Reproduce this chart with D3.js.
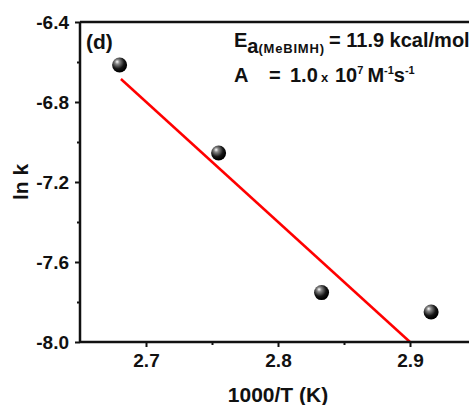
<!DOCTYPE html>
<html>
<head>
<meta charset="utf-8">
<script src="https://cdn.jsdelivr.net/npm/d3@7"></script>
<style>
  body { margin: 0; background: #fff; }
  svg { font-family: "Liberation Sans", Arial, sans-serif; font-weight: bold; }
</style>
</head>
<body>
<div id="canvas"></div>
<script>
// data
const invT = [2.680, 2.755, 2.833, 2.916];
const lnK = [-6.615, -7.055, -7.753, -7.85];
const fitX = [2.681, 2.900];
const fitY = [-6.685, -8.0];
const xTicks = [2.7, 2.8, 2.9];
const xMinor = [2.75, 2.85];
const yTicks = [-6.4, -6.8, -7.2, -7.6, -8.0];
const yMinor = [-6.6, -7.0, -7.4, -7.8];

const W = 469, H = 405;
const padL = 80, padT = 22, padB = 342, padR = 476;

const svg = d3.select("#canvas")
  .append("svg")
  .attr("width", W)
  .attr("height", H);

const x = d3.scaleLinear().domain([2.65, 2.95]).range([padL, padR]);
const y = d3.scaleLinear().domain([-8.0, -6.4]).range([padB, padT]);

// plain hyphen for negative labels, like the original
const fmt = d => d3.format(".1f")(d).replace("\u2212", "-");

// sphere gradient for markers
const grad = svg.append("defs").append("radialGradient")
  .attr("id", "ball")
  .attr("cx", "40%").attr("cy", "35%").attr("r", "60%")
  .attr("fx", "33%").attr("fy", "28%");
grad.append("stop").attr("offset", "0%").attr("stop-color", "#ffffff");
grad.append("stop").attr("offset", "25%").attr("stop-color", "#888");
grad.append("stop").attr("offset", "70%").attr("stop-color", "#151515");
grad.append("stop").attr("offset", "100%").attr("stop-color", "#000");

// fit line
svg.append("line")
  .attr("x1", x(fitX[0])).attr("y1", y(fitY[0]))
  .attr("x2", x(fitX[1])).attr("y2", y(fitY[1]))
  .attr("stroke", "#ff0000")
  .attr("stroke-width", 2.5);

// points
svg.selectAll("circle.pt")
  .data(invT)
  .enter()
  .append("circle")
  .attr("class", "pt")
  .attr("cx", d => x(d))
  .attr("cy", (d, i) => y(lnK[i]))
  .attr("r", 7.5)
  .style("fill", "url(#ball)");

// axes
svg.append("g")
  .attr("transform", "translate(0," + padB + ")")
  .call(d3.axisBottom(x).tickValues(xTicks).tickSize(5).tickPadding(7).tickFormat(fmt));
svg.append("g")
  .attr("transform", "translate(0," + padB + ")")
  .call(d3.axisBottom(x).tickValues(xMinor).tickSize(3).tickFormat(""));

svg.append("g")
  .attr("transform", "translate(" + padL + ",0)")
  .call(d3.axisLeft(y).tickValues(yTicks).tickSize(5).tickPadding(6).tickFormat(fmt));
svg.append("g")
  .attr("transform", "translate(" + padL + ",0)")
  .call(d3.axisLeft(y).tickValues(yMinor).tickSize(3).tickFormat(""));

svg.selectAll(".domain").remove();
svg.selectAll(".tick line").attr("stroke", "#111").attr("stroke-width", 2);
svg.selectAll(".tick text")
  .attr("fill", "#111")
  .style("font-size", "19px")
  .style("font-weight", "bold")
  .style("font-family", "Liberation Sans, Arial, sans-serif");

// frame lines
svg.append("line").attr("x1", padL).attr("x2", padR).attr("y1", padB).attr("y2", padB)
  .attr("stroke", "#111").attr("stroke-width", 2.5);
svg.append("line").attr("x1", padL).attr("x2", padL).attr("y1", padT).attr("y2", padB)
  .attr("stroke", "#111").attr("stroke-width", 2.5);
svg.append("line").attr("x1", padL).attr("x2", padR).attr("y1", padT).attr("y2", padT)
  .attr("stroke", "#111").attr("stroke-width", 2.5);

// axis titles
svg.append("text")
  .attr("x", 278).attr("y", 402)
  .attr("text-anchor", "middle")
  .style("font-size", "21px")
  .attr("fill", "#111")
  .text("1000/T (K)");

svg.append("text")
  .attr("transform", "translate(28,182) rotate(-90)")
  .attr("text-anchor", "middle")
  .style("font-size", "21px")
  .attr("fill", "#111")
  .text("ln k");

// annotations
svg.append("text")
  .attr("x", 86).attr("y", 49)
  .style("font-size", "21px")
  .attr("fill", "#111")
  .text("(d)");

const ea = svg.append("text")
  .attr("x", 234).attr("y", 47)
  .style("font-size", "20px")
  .attr("fill", "#111");
ea.append("tspan").text("E");
ea.append("tspan").attr("dy", 6).text("a");
ea.append("tspan").style("font-size", "13px").style("letter-spacing", "0.8px").text("(MeBIMH)");
ea.append("tspan").attr("x", 329).attr("dy", -6).text("= 11.9 kcal/mol");

const a = svg.append("text")
  .attr("y", 82)
  .style("font-size", "20px")
  .attr("fill", "#111");
a.append("tspan").attr("x", 234).text("A");
a.append("tspan").attr("x", 269).text("=");
a.append("tspan").attr("x", 290).text("1.0");
a.append("tspan").attr("x", 321).style("font-size", "13px").text("x");
a.append("tspan").attr("x", 335).text("10");
a.append("tspan").attr("dy", -8).style("font-size", "11px").text("7");
a.append("tspan").attr("dx", 4).attr("dy", 8).text("M");
a.append("tspan").attr("dy", -8).style("font-size", "11px").text("-1");
a.append("tspan").attr("dy", 8).text("s");
a.append("tspan").attr("dy", -8).style("font-size", "11px").text("-1");
</script>
</body>
</html>
